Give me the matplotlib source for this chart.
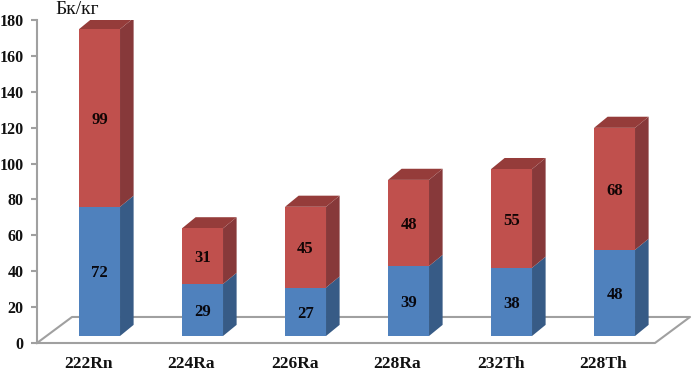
import matplotlib
matplotlib.use("Agg")
import matplotlib.pyplot as plt
from matplotlib.patches import Polygon

isotopes = ["222Rn", "224Ra", "226Ra", "228Ra", "232Th", "228Th"]
lower_values = [72, 29, 27, 39, 38, 48]
upper_values = [99, 31, 45, 48, 55, 68]
y_ticks = [0, 20, 40, 60, 80, 100, 120, 140, 160, 180]

W, H = 693, 372
BAR_W = 0.398
SHIFT = 0.107
BASE = 3.9
DX, DY = 0.132, 6.2
FLOOR_DX, FLOOR_DY = 0.34, 14.5
GREY = "#a0a0a0"
SERIF = "Liberation Serif"


def draw_segment(ax, x, y0, y1, face, side, top=None):
    ax.add_patch(Polygon([(x, y0), (x + BAR_W, y0), (x + BAR_W, y1), (x, y1)],
                         fc=face, ec="none", zorder=4))
    ax.add_patch(Polygon([(x + BAR_W, y0), (x + BAR_W + DX, y0 + DY),
                          (x + BAR_W + DX, y1 + DY), (x + BAR_W, y1)],
                         fc=side, ec="none", zorder=3))
    if top:
        ax.add_patch(Polygon([(x, y1), (x + BAR_W, y1),
                              (x + BAR_W + DX, y1 + DY), (x + DX, y1 + DY)],
                             fc=top, ec="none", zorder=3))


def value_label(ax, x, y, value, color):
    ax.annotate(str(value), (x, y), xytext=(0, -1.5), textcoords="offset points",
                ha="center", va="center", family=SERIF, weight="bold",
                fontsize=12, color=color, zorder=5)


fig = plt.figure(figsize=(W / 100, H / 100), dpi=100)
ax = fig.add_axes([37 / W, 1 - 343 / H, 618 / W, 323 / H])
ax.set_xlim(0, 6)
ax.set_ylim(0, 180)

# floor of the 3d box
ax.plot([0, FLOOR_DX, 6 + FLOOR_DX, 6, 0],
        [0, FLOOR_DY, FLOOR_DY, 0, 0],
        color=GREY, lw=1.5, clip_on=False, zorder=1)

for i, name in enumerate(isotopes):
    x = i + 0.5 + SHIFT - BAR_W / 2
    low = lower_values[i]
    up = upper_values[i]
    draw_segment(ax, x, BASE, BASE + low, "#4f81bd", "#375b86")
    draw_segment(ax, x, BASE + low, BASE + low + up, "#c0504d", "#87393a", "#953c3a")
    value_label(ax, x + BAR_W / 2, BASE + low / 2, low, "#08080f")
    value_label(ax, x + BAR_W / 2, BASE + low + up / 2, up, "#120505")

for s in ["top", "right", "bottom"]:
    ax.spines[s].set_visible(False)
ax.spines["left"].set_color(GREY)
ax.spines["left"].set_linewidth(1.5)

ax.set_xticks([i + 0.5 for i in range(len(isotopes))])
ax.set_xticklabels(isotopes, family=SERIF, weight="bold", fontsize=12.5, color="#111111")
ax.tick_params(axis="x", length=0, pad=9)
ax.set_yticks(y_ticks)
ax.set_yticklabels([str(v) for v in y_ticks], family=SERIF, weight="bold",
                   fontsize=11.5, color="#111111")
ax.tick_params(axis="y", length=4, width=1.5, color=GREY, pad=5.5)

fig.text(77 / W, 1 - 9.5 / H, "Бк/кг", family=SERIF, fontsize=14,
         ha="center", va="center", color="#111111")

fig.savefig("out.png", dpi=100)
